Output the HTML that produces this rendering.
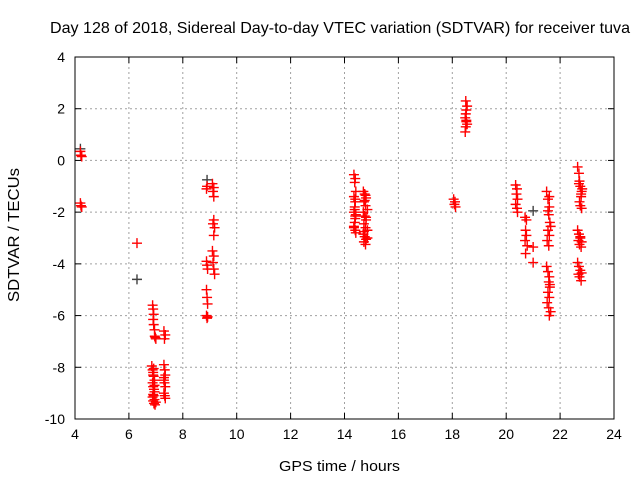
<!DOCTYPE html>
<html><head><meta charset="utf-8"><style>
body{margin:0;background:#fff;}
svg{display:block;font-family:"Liberation Sans",sans-serif;}
</style></head><body>
<svg id="chart" width="640" height="480">
<text x="50" y="33" textLength="580" lengthAdjust="spacingAndGlyphs" font-size="16">Day 128 of 2018, Sidereal Day-to-day VTEC variation (SDTVAR) for receiver tuva</text>
<g id="grid"></g>
<g id="axes"></g>
<g id="pts"></g>
<text x="279" y="471" textLength="121" lengthAdjust="spacingAndGlyphs" font-size="15">GPS time / hours</text>
<text transform="translate(19,302) rotate(-90)" textLength="134" lengthAdjust="spacingAndGlyphs" font-size="16">SDTVAR / TECUs</text>
</svg>
<script>
const xTicks=[4,6,8,10,12,14,16,18,20,22,24];
const yTicks=[4,2,0,-2,-4,-6,-8,-10];
const redX=[4.2,4.22,4.25,4.2,4.22,4.25,
6.3,
6.88,6.9,6.92,6.9,6.92,6.95,6.98,7.0,6.96,
6.85,6.88,6.9,6.92,6.95,6.88,6.9,6.93,6.95,6.9,6.92,6.88,6.95,6.9,6.93,6.97,7.0,6.95,6.9,6.92,
7.3,7.35,7.32,7.3,7.33,7.35,7.3,7.32,7.35,7.3,7.33,7.35,7.3,
8.88,8.9,8.88,8.9,8.92,8.88,8.9,8.92,8.88,8.9,8.92,
9.1,9.15,9.12,9.15,9.15,9.12,9.18,9.15,9.1,9.15,9.12,9.15,9.18,
14.35,14.4,14.38,14.42,14.35,14.4,14.38,14.35,14.42,14.4,14.38,14.35,14.4,14.42,14.38,14.4,14.35,14.4,
14.7,14.75,14.8,14.72,14.78,14.85,14.7,14.75,14.8,14.72,14.78,14.85,14.7,14.75,14.8,14.72,14.78,14.85,14.75,14.8,14.72,14.78,
18.05,18.1,18.08,18.12,
18.5,18.55,18.52,18.5,18.48,18.52,18.55,18.5,18.48,18.52,
20.35,20.4,20.38,20.42,20.35,20.4,20.42,
20.7,20.75,20.72,20.75,20.7,20.78,20.72,21.0,21.0,
21.5,21.55,21.6,21.58,21.62,21.55,21.6,21.52,21.58,21.65,21.55,21.6,
21.5,21.55,21.6,21.58,21.62,21.55,21.6,21.52,21.58,21.65,21.6,21.62,
22.65,22.7,22.72,22.75,22.8,22.78,22.72,22.75,22.8,22.7,22.78,22.82,
22.65,22.7,22.75,22.8,22.72,22.78,22.68,22.75,
22.65,22.7,22.75,22.8,22.72,22.78,22.68];
const redY=[0.35,0.2,0.15,-1.65,-1.75,-1.8,
-3.2,
-5.6,-5.75,-5.95,-6.15,-6.35,-6.55,-6.85,-6.9,-6.8,
-7.95,-8.1,-8.2,-8.35,-8.5,-8.6,-8.75,-8.85,-8.95,-9.05,-9.1,-9.15,-9.25,-9.3,-9.4,-9.45,-9.35,-8.7,-8.3,-8.05,
-6.6,-6.75,-6.9,-7.9,-8.1,-8.3,-8.5,-8.6,-8.75,-9.0,-9.1,-9.2,-8.4,
-1.1,-1.0,-3.9,-4.05,-4.2,-5.0,-5.3,-5.55,-6.0,-6.1,-6.05,
-0.9,-1.05,-1.2,-1.4,-2.3,-2.45,-2.6,-2.9,-3.5,-3.7,-3.95,-4.2,-4.4,
-0.55,-0.7,-0.85,-1.2,-1.4,-1.6,-1.8,-2.0,-2.1,-2.25,-2.4,-2.55,-2.7,-2.8,-1.9,-2.15,-2.6,-1.5,
-1.2,-1.3,-1.45,-1.6,-1.75,-1.9,-2.0,-2.15,-2.3,-2.45,-2.6,-2.7,-2.85,-2.95,-3.05,-3.15,-3.25,-3.0,-1.55,-2.2,-2.75,-1.35,
-1.5,-1.6,-1.7,-1.8,
2.3,2.1,1.95,1.8,1.65,1.5,1.4,1.3,1.1,1.55,
-0.95,-1.1,-1.3,-1.5,-1.7,-1.85,-2.0,
-2.2,-2.3,-2.7,-2.9,-3.1,-3.3,-3.6,-3.35,-3.95,
-1.2,-1.5,-1.8,-2.1,-2.4,-2.7,-2.9,-3.1,-3.3,-2.55,-1.95,-1.4,
-4.1,-4.3,-4.5,-4.7,-4.9,-5.1,-5.3,-5.5,-5.7,-5.85,-6.0,-4.8,
-0.25,-0.5,-0.8,-1.0,-1.2,-1.4,-1.6,-1.75,-1.85,-0.9,-1.3,-1.1,
-2.7,-2.85,-3.0,-3.15,-3.25,-3.35,-3.1,-2.95,
-3.95,-4.1,-4.25,-4.35,-4.5,-4.65,-4.4];
const darkX=[4.2,6.3,8.9,21.0];
const darkY=[0.45,-4.6,-0.75,-1.95];
const L=75,R=614,T=57,B=419;
const sx=h=>L+(h-4)/20*(R-L);
const sy=v=>T+(4-v)/14*(B-T);
const NS="http://www.w3.org/2000/svg";
function mk(tag,attrs,parent){const e=document.createElementNS(NS,tag);for(const k in attrs)e.setAttribute(k,attrs[k]);parent.appendChild(e);return e;}
const grid=document.getElementById('grid'),axes=document.getElementById('axes'),pts=document.getElementById('pts');
xTicks.forEach(t=>{const x=sx(t);
 if(t>4&&t<24){const g=mk('line',{x1:x,x2:x,y1:T,y2:B,stroke:'#a0a0a0','stroke-dasharray':'2,3'},grid);
 
 }
 mk('line',{x1:x,x2:x,y1:B,y2:B-6,stroke:'#000'},axes);mk('line',{x1:x,x2:x,y1:T,y2:T+6,stroke:'#000'},axes);
 const tx=mk('text',{x:x,y:B+20,'text-anchor':'middle','font-size':'14'},axes);tx.textContent=t;
 
 });
yTicks.forEach(t=>{const y=sy(t);
 if(t<4&&t>-10){const g=mk('line',{x1:L,x2:R,y1:y,y2:y,stroke:'#a0a0a0','stroke-dasharray':'2,3'},grid);
 
 }
 mk('line',{x1:L,x2:L+6,y1:y,y2:y,stroke:'#000'},axes);mk('line',{x1:R,x2:R-6,y1:y,y2:y,stroke:'#000'},axes);
 const tx=mk('text',{x:L-10,y:y+5,'text-anchor':'end','font-size':'14'},axes);tx.textContent=t;
 
 });
const fr=mk('rect',{x:L,y:T,width:R-L,height:B-T,fill:'none',stroke:'#000'},axes);


function plus(x,y,c){return mk('path',{d:`M${x-5},${y}H${x+5}M${x},${y-5}V${y+5}`,stroke:c,'stroke-width':'1.4'},pts);}
darkX.forEach((h,i)=>{const p=plus(sx(h),sy(darkY[i]),'#404040');
 
 });
redX.forEach((h,i)=>{const p=plus(sx(h),sy(redY[i]),'#ff0000');
 
 });
</script>
</body></html>
